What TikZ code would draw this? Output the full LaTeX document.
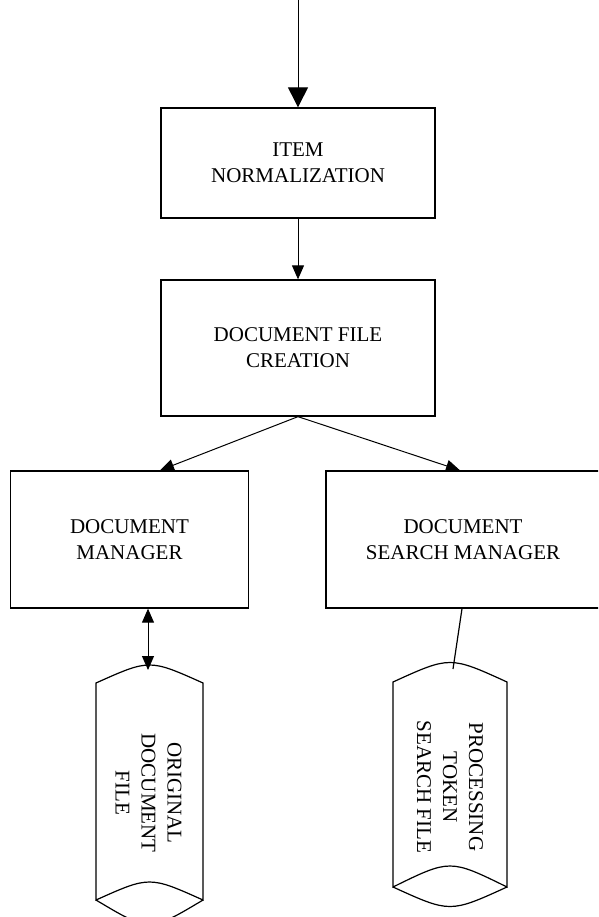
\documentclass[tikz,border=0pt]{standalone}
\usepackage{fontspec}
\setmainfont{Liberation Serif}
\usetikzlibrary{arrows.meta,positioning}

\tikzset{
  procbox/.style={draw, line width=1.3pt, align=center, inner sep=0pt,
    font=\fontsize{21}{26}\selectfont},
  storetext/.style={rotate=-90, align=center, inner sep=0pt,
    font=\fontsize{21}{26}\selectfont},
  store/.style={line width=1.2pt},
  flow/.style={line width=1pt, -{Triangle[length=14pt,width=12pt]}},
  bigflow/.style={line width=1pt, -{Triangle[length=20pt,width=20pt]}},
  dflow/.style={line width=1pt, {Triangle[length=14pt,width=12pt]}-{Triangle[length=14pt,width=12pt]}},
}

\begin{document}
\begin{tikzpicture}[x=1pt,y=-1pt]
  \clip (0,0) rectangle (598,917);

  \coordinate (in) at (298,0);
  \node[procbox, minimum width=274pt, minimum height=110pt] (norm) at (298,163) {ITEM\\NORMALIZATION};
  \node[procbox, minimum width=274pt, minimum height=136pt] (create) at (298,348) {DOCUMENT FILE\\CREATION};
  \node[procbox, minimum width=238pt, minimum height=137pt] (dman) at (129.5,539.5) {DOCUMENT\\MANAGER};
  \node[procbox, minimum width=274pt, minimum height=137pt] (sman) at (463,539.5) {DOCUMENT\\SEARCH MANAGER};

  % original document file
  \draw[store] (96,683) .. controls (149.5,659) .. (203,683) -- (203,900)
    .. controls (149.5,876) .. (96,900) -- cycle;
  \draw[store] (96,900) .. controls (149.5,932) .. (203,900);
  \node[storetext] (orig) at (148.5,793) {ORIGINAL\\DOCUMENT\\FILE};
  \coordinate (origtop) at (148,670);

  % processing token search file
  \draw[store] (393,682) .. controls (450,656) .. (507,682) -- (507,887)
    .. controls (450,859) .. (393,887) -- cycle;
  \draw[store] (393,887) .. controls (450,913) .. (507,887);
  \node[storetext] (token) at (450,787) {PROCESSING\\TOKEN\\SEARCH FILE};
  \coordinate (tokentop) at (453,669);

  \draw[bigflow] (in) -- (norm);
  \draw[flow] (norm) -- (create);
  \draw[flow] (create.south) -- ([xshift=30.5pt]dman.north);
  \draw[flow] (create.south) -- ([xshift=-3pt]sman.north);
  \draw[dflow] ([xshift=18.5pt]dman.south) -- (origtop);
  \draw[store] ([xshift=-1pt]sman.south) -- (tokentop);
\end{tikzpicture}
\end{document}
